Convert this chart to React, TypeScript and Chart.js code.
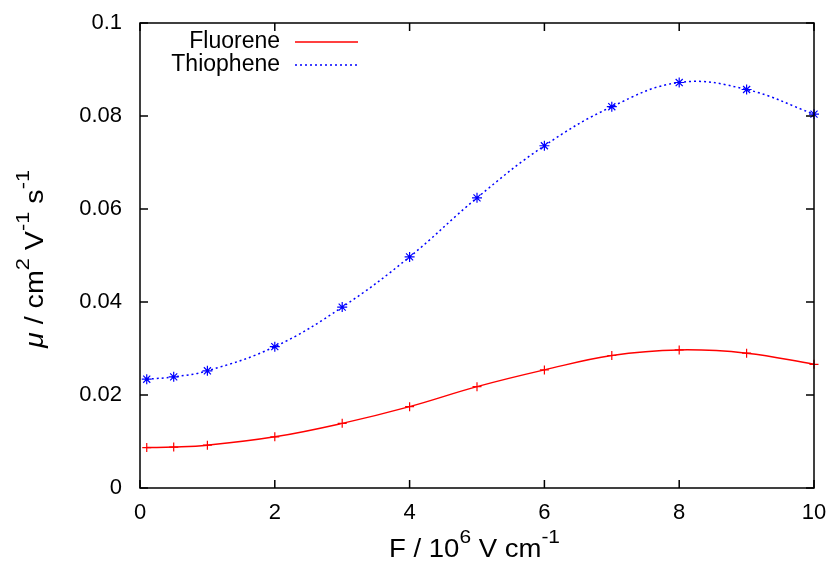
import React, { useEffect, useRef } from "react";
import { Chart, registerables } from "chart.js";
Chart.register(...registerables);

const fieldValues = [0.1, 0.5, 1, 2, 3, 4, 5, 6, 7, 8, 9, 10];
const fluoreneValues = [0.0087, 0.0088, 0.0092, 0.011, 0.0139, 0.0175, 0.0218, 0.0254, 0.0285, 0.0297, 0.029, 0.0266];
const thiopheneValues = [0.0234, 0.0239, 0.0252, 0.0304, 0.0389, 0.0497, 0.0624, 0.0736, 0.082, 0.0872, 0.0857, 0.0804];
const seriesNames = ["Fluorene", "Thiophene"];
const xTicks = [0, 2, 4, 6, 8, 10];
const xTickLabels = ["0", "2", "4", "6", "8", "10"];
const yTicks = [0, 0.02, 0.04, 0.06, 0.08, 0.1];
const yTickLabels = ["0", "0.02", "0.04", "0.06", "0.08", "0.1"];

const FONT = "'Liberation Sans', Arial, Helvetica, sans-serif";
const RED = "#ff0000";
const BLUE = "#0000ff";

type Part = { t: string; sup?: boolean; italic?: boolean };

function drawRich(
  ctx: CanvasRenderingContext2D,
  parts: Part[],
  cx: number,
  by: number,
  size: number,
  targetWidth: number
) {
  const supSize = Math.round(size * 0.75);
  const fontFor = (p: Part) => `${p.italic ? "italic " : ""}${p.sup ? supSize : size}px ${FONT}`;
  let total = 0;
  const widths = parts.map((p) => {
    ctx.font = fontFor(p);
    const w = ctx.measureText(p.t).width;
    total += w;
    return w;
  });
  const k = targetWidth / total;
  ctx.save();
  ctx.translate(cx - targetWidth / 2, by);
  ctx.scale(k, 1);
  ctx.textAlign = "left";
  ctx.textBaseline = "alphabetic";
  let x = 0;
  parts.forEach((p, i) => {
    ctx.font = fontFor(p);
    ctx.fillText(p.t, x, p.sup ? -size * 0.55 : 0);
    x += widths[i];
  });
  ctx.restore();
}

const gnuplotPlugin = {
  id: "gnuplotDecor",
  afterDraw(chart: any) {
    const ctx: CanvasRenderingContext2D = chart.ctx;
    const { left, right, top, bottom } = chart.chartArea;
    const xs = chart.scales.x;
    const ys = chart.scales.y;
    ctx.save();
    ctx.strokeStyle = "#000";
    ctx.lineWidth = 1.5;
    ctx.beginPath();
    xTicks.forEach((v) => {
      const px = xs.getPixelForValue(v);
      ctx.moveTo(px, bottom);
      ctx.lineTo(px, bottom - 8);
      ctx.moveTo(px, top);
      ctx.lineTo(px, top + 8);
    });
    yTicks.forEach((v) => {
      const py = ys.getPixelForValue(v);
      ctx.moveTo(left, py);
      ctx.lineTo(left + 8, py);
      ctx.moveTo(right, py);
      ctx.lineTo(right - 8, py);
    });
    ctx.stroke();
    ctx.strokeRect(left, top, right - left, bottom - top);

    // legend
    ctx.fillStyle = "#000";
    ctx.font = `23px ${FONT}`;
    ctx.textAlign = "right";
    ctx.textBaseline = "middle";
    ctx.fillText(seriesNames[0], 280, 42);
    ctx.fillText(seriesNames[1], 280, 65);
    ctx.lineWidth = 1.5;
    ctx.strokeStyle = RED;
    ctx.setLineDash([]);
    ctx.beginPath();
    ctx.moveTo(295, 42);
    ctx.lineTo(358, 42);
    ctx.stroke();
    ctx.strokeStyle = BLUE;
    ctx.setLineDash([2, 3]);
    ctx.beginPath();
    ctx.moveTo(295, 65);
    ctx.lineTo(358, 65);
    ctx.stroke();
    ctx.setLineDash([]);

    // axis titles
    ctx.fillStyle = "#000";
    drawRich(
      ctx,
      [{ t: "F / 10" }, { t: "6", sup: true }, { t: " V cm" }, { t: "-1", sup: true }],
      474.5,
      557,
      25,
      171
    );
    ctx.save();
    ctx.translate(43, 259);
    ctx.rotate(-Math.PI / 2);
    drawRich(
      ctx,
      [
        { t: "\u03bc", italic: true },
        { t: " / cm" },
        { t: "2", sup: true },
        { t: " V" },
        { t: "-1", sup: true },
        { t: " s" },
        { t: "-1", sup: true },
      ],
      0,
      0,
      25,
      178
    );
    ctx.restore();
    ctx.restore();
  },
};

const zeroPad = (s: any) => {
  s.paddingTop = 0;
  s.paddingBottom = 0;
  s.paddingLeft = 0;
  s.paddingRight = 0;
};

export default function App() {
  const ref = useRef<HTMLCanvasElement>(null);
  useEffect(() => {
    if (!ref.current) return;
    const chart = new Chart(ref.current, {
      type: "line",
      data: {
        datasets: [
          {
            label: seriesNames[0],
            data: fieldValues.map((x, i) => ({ x, y: fluoreneValues[i] })),
            borderColor: RED,
            backgroundColor: RED,
            borderWidth: 1.5,
            pointStyle: "cross",
            pointRadius: 4.5,
            pointBorderWidth: 1.2,
            pointBorderColor: RED,
            tension: 0.4,
            fill: false,
            clip: false as any,
          },
          {
            label: seriesNames[1],
            data: fieldValues.map((x, i) => ({ x, y: thiopheneValues[i] })),
            borderColor: BLUE,
            backgroundColor: BLUE,
            borderWidth: 1.5,
            borderDash: [2, 3],
            pointStyle: "star",
            pointRadius: 5,
            pointBorderWidth: 1.2,
            pointBorderColor: BLUE,
            tension: 0.4,
            fill: false,
            clip: false as any,
          },
        ],
      },
      options: {
        animation: false,
        responsive: false,
        layout: { padding: { top: 23, right: 19, left: 0, bottom: 0 } },
        plugins: { legend: { display: false }, tooltip: { enabled: false } },
        scales: {
          x: {
            type: "linear",
            min: 0,
            max: 10,
            afterBuildTicks: (s: any) => {
              s.ticks = xTicks.map((v) => ({ value: v }));
            },
            afterFit: (s: any) => {
              s.height = 74;
              zeroPad(s);
            },
            grid: { display: false, drawTicks: false },
            border: { display: false },
            ticks: {
              color: "#000",
              font: { family: FONT, size: 22 },
              padding: 12,
              maxRotation: 0,
              autoSkip: false,
              callback: (v: any) => {
                const i = xTicks.indexOf(Number(v));
                return i >= 0 ? xTickLabels[i] : "";
              },
            },
          },
          y: {
            type: "linear",
            min: 0,
            max: 0.1,
            afterBuildTicks: (s: any) => {
              s.ticks = yTicks.map((v) => ({ value: v }));
            },
            afterFit: (s: any) => {
              s.width = 140;
              zeroPad(s);
            },
            grid: { display: false, drawTicks: false },
            border: { display: false },
            ticks: {
              color: "#000",
              font: { family: FONT, size: 22 },
              padding: 18,
              autoSkip: false,
              callback: (v: any) => {
                const i = yTicks.findIndex((t) => Math.abs(t - Number(v)) < 1e-9);
                return i >= 0 ? yTickLabels[i] : "";
              },
            },
          },
        },
      },
      plugins: [gnuplotPlugin],
    });
    return () => chart.destroy();
  }, []);
  return (
    <div style={{ position: "absolute", left: 0, top: 0, width: 833, height: 562, background: "#fff" }}>
      <canvas ref={ref} width={833} height={562} style={{ width: 833, height: 562, display: "block" }} />
    </div>
  );
}
